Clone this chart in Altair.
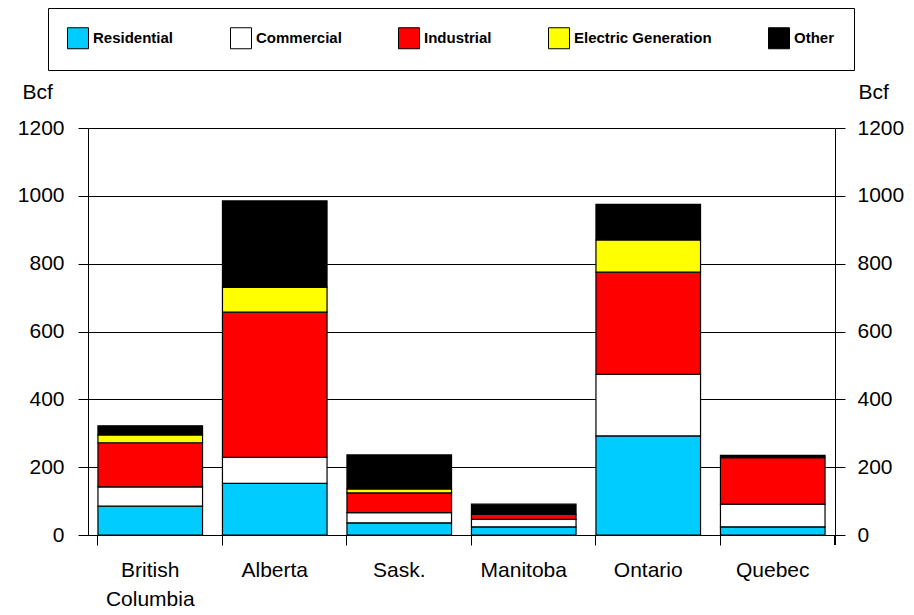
import altair as alt
import pandas as pd

# Natural gas demand by province and sector (Bcf)
provinces = ["British Columbia", "Alberta", "Sask.", "Manitoba", "Ontario", "Quebec"]
sectors = ["Residential", "Commercial", "Industrial", "Electric Generation", "Other"]
sector_colors = ["#00CCFF", "#FFFFFF", "#FF0000", "#FFFF00", "#000000"]

residential = [85, 152, 36, 24, 292, 24]
commercial = [57, 77, 30, 22, 182, 67]
industrial = [130, 428, 58, 15, 301, 137]
electric_generation = [23, 73, 12, 0, 95, 0]
other = [27, 255, 100, 30, 105, 7]

y_ticks = [0, 200, 400, 600, 800, 1000, 1200]

series = [residential, commercial, industrial, electric_generation, other]
rows = []
for k, (sector, values) in enumerate(zip(sectors, series)):
    for province, v in zip(provinces, values):
        if v > 0:
            rows.append({"province": province, "sector": sector, "k": k, "bcf": v})
df = pd.DataFrame(rows)
ticks_df = pd.DataFrame({"bcf": y_ticks})

W, H = 747, 407
FONT = "Liberation Sans"
FS = 21

x_enc = alt.X(
    "province:N",
    sort=provinces,
    scale=alt.Scale(paddingInner=0.16, paddingOuter=0.08),
    axis=alt.Axis(
        title=None,
        bandPosition=0,
        labelAngle=0,
        labelExpr="split(datum.label, ' ')",
        labelLineHeight=29,
        labelPadding=14,
        tickSize=10,
    ),
)

y_scale = alt.Scale(domain=[0, 1200], nice=False)

bars = alt.Chart(df).mark_bar(stroke="black", strokeWidth=1.2).encode(
    x=x_enc,
    y=alt.Y(
        "bcf:Q",
        stack="zero",
        scale=y_scale,
        axis=alt.Axis(
            values=y_ticks,
            format="d",
            title="Bcf",
            titleAngle=0,
            titleAlign="left",
            titleBaseline="alphabetic",
            titleX=-66,
            titleY=-30,
            grid=True,
            tickSize=10,
            labelPadding=14,
        ),
    ),
    color=alt.Color(
        "sector:N",
        sort=sectors,
        scale=alt.Scale(domain=sectors, range=sector_colors),
        legend=alt.Legend(
            title=None,
            orient="none",
            legendX=-40,
            legendY=-120,
            direction="horizontal",
            columns=5,
            columnPadding=54,
            padding=19,
            strokeColor="black",
            fillColor="white",
            symbolType="square",
            symbolSize=441,
            symbolStrokeColor="black",
            symbolStrokeWidth=1,
            symbolOpacity=1,
            labelFont=FONT,
            labelFontSize=15,
            labelFontWeight="bold",
            labelColor="black",
            labelOffset=4,
        ),
    ),
    order=alt.Order("k:Q", sort="ascending"),
)

right_axis = alt.Chart(ticks_df).mark_point(opacity=0).encode(
    x=alt.value(0),
    y=alt.Y(
        "bcf:Q",
        scale=y_scale,
        axis=alt.Axis(
            orient="right",
            values=y_ticks,
            format="d",
            title="Bcf",
            titleAngle=0,
            titleAlign="left",
            titleBaseline="alphabetic",
            titleX=23,
            titleY=-30,
            grid=False,
            tickSize=10,
            labelPadding=12,
        ),
    ),
)

# closing tick at the right end of the category axis
end_tick = alt.Chart(ticks_df).mark_rule(color="black", strokeWidth=1).encode(
    x=alt.value(W), y=alt.value(H), y2=alt.value(H + 10)
)

chart = (
    alt.layer(bars, right_axis, end_tick)
    .resolve_scale(y="independent")
    .properties(
        width=W,
        height=H,
        autosize=alt.AutoSizeParams(type="none"),
        padding={"left": 88, "top": 128, "right": 79, "bottom": 80},
        background="white",
    )
    .configure_view(strokeWidth=0)
    .configure_axis(
        labelFont=FONT,
        labelFontSize=FS,
        labelColor="black",
        titleFont=FONT,
        titleFontSize=FS,
        titleFontWeight="normal",
        titleColor="black",
        domainColor="black",
        domainWidth=1,
        tickColor="black",
        tickWidth=1,
        gridColor="black",
        gridWidth=1,
        gridOpacity=1,
    )
)

chart.save("out.html", embed_options={"renderer": "svg", "actions": False})
